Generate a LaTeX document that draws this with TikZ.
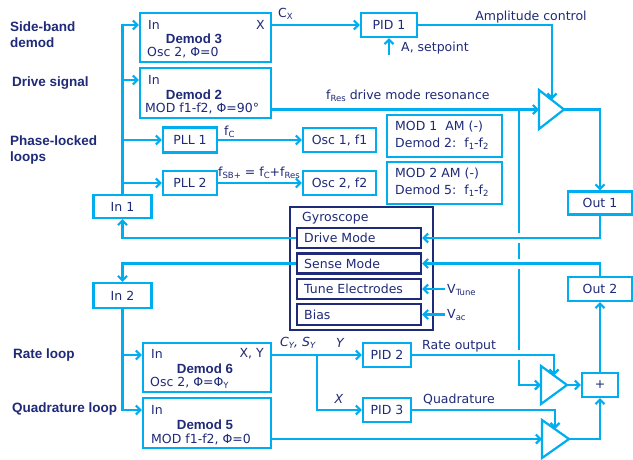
\documentclass[tikz,border=0pt]{standalone}
\usepackage{fontspec}
\setmainfont{DejaVu Sans}
\newfontfamily\lsans{Liberation Sans}
\usetikzlibrary{arrows.meta}
\definecolor{cy}{HTML}{00AEEF}
\definecolor{nv}{HTML}{1F2A78}
\newcommand\sbs[1]{\raisebox{-0.35ex}{\fontsize{8.5}{8.5}\selectfont #1}}
\begin{document}
\begin{tikzpicture}[x=1pt,y=-1pt,
  box/.style={draw=cy, line width=2.2pt, inner sep=0pt, text=nv, font=\fontsize{12.5}{14}\selectfont},
  gbox/.style={draw=nv, line width=2.2pt, inner sep=0pt},
  lbl/.style={text=nv, inner sep=0pt, font=\fontsize{12.5}{14}\selectfont},
  blbl/.style={text=nv, inner sep=0pt, font=\lsans\bfseries\fontsize{13.5}{16}\selectfont},
  conn/.style={draw=cy, line width=2.2pt, -{Straight Barb[length=4.5pt,width=9pt]}},
  plain/.style={draw=cy, line width=2.2pt},
  amp/.style={draw=cy, line width=2.2pt, line join=miter}]
\useasboundingbox[fill=white] (0,0) rectangle (633,459);

% ---------- boxes ----------
\node[box, minimum width=131pt, minimum height=49pt] (d3) at (205.5,37.5) {};
\node[box, minimum width=131pt, minimum height=50pt] (d2) at (205.5,93) {};
\node[box, minimum width=54pt, minimum height=25pt] (pll1) at (190,140) {PLL 1};
\node[box, minimum width=54pt, minimum height=24pt] (pll2) at (190,183) {PLL 2};
\node[box, minimum width=73pt, minimum height=24pt] (osc1) at (339.5,140) {Osc 1, f1};
\node[box, minimum width=73pt, minimum height=24pt] (osc2) at (339.5,183) {Osc 2, f2};
\node[box, minimum width=115pt, minimum height=42pt] (mod1) at (444.5,136) {};
\node[box, minimum width=115pt, minimum height=42pt] (mod2) at (444.5,183) {};
\node[box, minimum width=58pt, minimum height=23pt] (in1) at (122.5,206.5) {In 1};
\node[box, minimum width=58pt, minimum height=25pt] (in2) at (122.5,295.5) {In 2};
\node[box, minimum width=64pt, minimum height=23pt] (out1) at (600,203) {Out 1};
\node[box, minimum width=64pt, minimum height=24pt] (out2) at (600,289) {Out 2};
\node[box, minimum width=56pt, minimum height=24pt] (pid1) at (389,25) {PID 1};
\node[box, minimum width=48pt, minimum height=24pt] (pid2) at (387,355) {PID 2};
\node[box, minimum width=48pt, minimum height=24pt] (pid3) at (387,410) {PID 3};
\node[box, minimum width=128pt, minimum height=49pt] (d6) at (207,367.5) {};
\node[box, minimum width=128pt, minimum height=50pt] (d5) at (207,423) {};
\node[box, minimum width=36pt, minimum height=24pt] (plus) at (600,385) {+};

% gyroscope
\node[gbox, line width=2.6pt, minimum width=143pt, minimum height=123pt] (gyro) at (361.5,268.5) {};
\node[lbl, anchor=west] (gyt) at (302,218) {Gyroscope};
\node[gbox, minimum width=124pt, minimum height=20pt] (drive) at (359,238) {};
\node[gbox, minimum width=124pt, minimum height=20pt] (sense) at (359,263.5) {};
\node[gbox, minimum width=124pt, minimum height=20pt] (tune) at (359,289) {};
\node[gbox, minimum width=124pt, minimum height=21pt] (bias) at (359,314.5) {};
\node[lbl, anchor=west] (drivet) at (304,238) {Drive Mode};
\node[lbl, anchor=west] (senset) at (304,263.5) {Sense Mode};
\node[lbl, anchor=west] (tunet) at (304,289) {Tune Electrodes};
\node[lbl, anchor=west] (biast) at (304,314.5) {Bias};

% amplifiers
\draw[amp] (539,90) -- (539,129) -- (564,109.5) -- cycle;
\draw[amp] (541,366) -- (541,404) -- (567,385) -- cycle;
\draw[amp] (542,420) -- (542,458) -- (569,439) -- cycle;
\coordinate (a1in) at (539,109.5);
\coordinate (a1top) at (552,99.5);
\coordinate (a1out) at (564,109.5);
\coordinate (a2in) at (541,385);
\coordinate (a2top) at (554,375.5);
\coordinate (a2out) at (567,385);
\coordinate (a3in) at (542,439);
\coordinate (a3top) at (555,429);
\coordinate (a3out) at (569,439);

% ---------- box texts ----------
\node[lbl, anchor=west] (d3a) at (148,25) {In};
\node[lbl, anchor=east] (d3b) at (265,25) {X};
\node[lbl, font=\lsans\bfseries\fontsize{13.3}{15}\selectfont] (d3c) at (194,38.5) {Demod 3};
\node[lbl, anchor=west] (d3d) at (147,53) {Osc 2, Φ=0};
\node[lbl, anchor=west] (d2a) at (148,80) {In};
\node[lbl, font=\lsans\bfseries\fontsize{13.3}{15}\selectfont] (d2c) at (194,95) {Demod 2};
\node[lbl, anchor=west] (d2d) at (145,108.5) {MOD f1-f2, Φ=90°};
\node[lbl, anchor=west] (d6a) at (151,354) {In};
\node[lbl, anchor=east] (d6b) at (264,354) {X, Y};
\node[lbl, font=\lsans\bfseries\fontsize{13.3}{15}\selectfont] (d6c) at (205,368.5) {Demod 6};
\node[lbl, anchor=west] (d6d) at (150,383) {Osc 2, Φ=Φ\sbs{Y}};
\node[lbl, anchor=west] (d5a) at (151,410) {In};
\node[lbl, font=\lsans\bfseries\fontsize{13.3}{15}\selectfont] (d5c) at (205,425) {Demod 5};
\node[lbl, anchor=west] (d5d) at (151,439.5) {MOD f1-f2, Φ=0};
\node[lbl, anchor=west] (m1a) at (395,127) {MOD 1\ \ AM (-)};
\node[lbl, anchor=west] (m1b) at (395,144) {Demod 2:\ \ f\sbs{1}-f\sbs{2}};
\node[lbl, anchor=west] (m2a) at (395,174) {MOD 2 AM (-)};
\node[lbl, anchor=west] (m2b) at (395,191) {Demod 5:\ \ f\sbs{1}-f\sbs{2}};

% ---------- side labels ----------
\node[blbl, anchor=west, align=left] (lsb) at (10,35) {Side-band\\demod};
\node[blbl, anchor=west] (lds) at (12,83.5) {Drive signal};
\node[blbl, anchor=west, align=left] (lpl) at (10,150) {Phase-locked\\loops};
\node[blbl, anchor=west] (lrl) at (13,355) {Rate loop};
\node[blbl, anchor=west] (lql) at (12,409.5) {Quadrature loop};

% ---------- connectors (top) ----------
\coordinate (j25) at (122.5,25);
\coordinate (j80) at (122.5,80);
\draw[conn] (in1.north) |- (d3.west |- j25);
\draw[conn] (j80) -- (d2.west |- j80);
\draw[conn] (in1.north |- pll1.west) -- (pll1.west);
\draw[conn] (in1.north |- pll2.west) -- (pll2.west);
\draw[conn] (pll1.east) -- (osc1.west);
\draw[conn] (pll2.east) -- (osc2.west);
\node[lbl, anchor=west] (fc) at (224,132) {f\sbs{C}};
\node[lbl, anchor=west] (fsb) at (218,173) {f\sbs{SB+} = f\sbs{C}+f\sbs{Res}};

\draw[conn] (d3.east |- pid1.west) -- (pid1.west);
\node[lbl, anchor=west] (cx) at (278,14) {C\sbs{X}};
\draw[conn] (pid1.east) -| (a1top);
\node[lbl] (ampc) at (531,17) {Amplitude control};
\coordinate (sp) at (389,55);
\draw[conn] (sp) -- (pid1.south);
\node[lbl, anchor=west] (spt) at (401,48) {A, setpoint};
\draw[conn] (d2.east |- a1in) -- (a1in);
\node[lbl, anchor=west] (fres) at (326,96) {f\sbs{Res} drive mode resonance};
\draw[conn] (a1out) -| (out1.north);

% vertical line to the rate amplifier
\coordinate (j519) at (519,109.5);
\draw[conn] (j519) |- (a2in);
\fill[white] (515,233) rectangle (523,243);
\fill[white] (515,258.5) rectangle (523,268.5);
\fill[white] (515,350) rectangle (523,360);

% gyroscope connections
\draw[conn] (drive.west) -| (in1.south);
\draw[conn] (out1.south) |- (drive.east);
\draw[conn] (sense.west) -| (in2.north);
\draw[conn] (out2.north) |- (sense.east);
\coordinate (vt) at (445,289);
\coordinate (vac) at (445,314.5);
\draw[conn] (vt) -- (tune.east);
\draw[conn] (vac) -- (bias.east);
\node[lbl, anchor=west] (vtt) at (447,290) {V\sbs{Tune}};
\node[lbl, anchor=west] (vact) at (447,315) {V\sbs{ac}};

% ---------- connectors (bottom) ----------
\coordinate (j355) at (122.5,355);
\coordinate (j410) at (122.5,410);
\draw[conn] (in2.south) |- (d5.west |- j410);
\draw[conn] (j355) -- (d6.west |- j355);
\draw[conn] (d6.east |- pid2.west) -- (pid2.west);
\coordinate (j317) at (317,355);
\draw[conn] (j317) |- (pid3.west);
\node[lbl, anchor=west, font=\itshape\fontsize{12.5}{14}\selectfont] (cys) at (280,343) {C\sbs{Y}, S\sbs{Y}};
\node[lbl, font=\itshape\fontsize{12.5}{14}\selectfont] (ylab) at (340,343) {Y};
\node[lbl, font=\itshape\fontsize{12.5}{14}\selectfont] (xlab) at (339,399) {X};
\draw[conn] (pid2.east) -| (a2top);
\node[lbl, anchor=west] (rout) at (422,346) {Rate output};
\draw[conn] (pid3.east) -| (a3top);
\node[lbl, anchor=west] (quad) at (423,400) {Quadrature};
\draw[conn] (d5.east |- a3in) -- (a3in);
\draw[conn] (a2out) -- (plus.west);
\draw[conn] (a3out) -| (plus.south);
\draw[conn] (plus.north) -- (out2.south);
\end{tikzpicture}
\end{document}
